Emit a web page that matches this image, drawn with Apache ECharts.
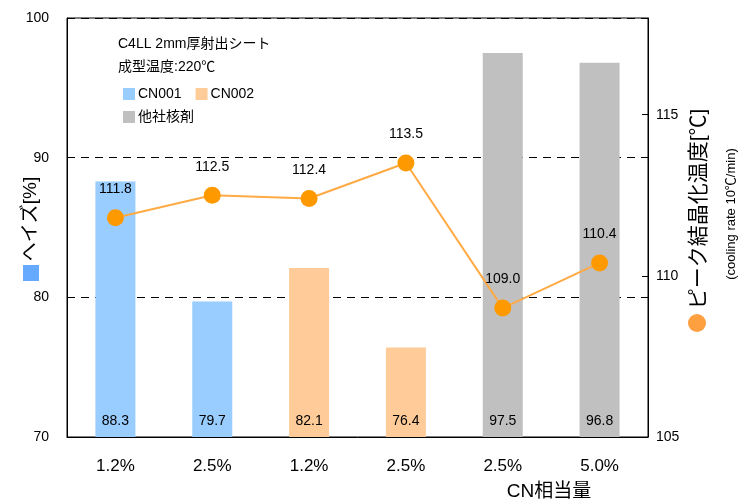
<!DOCTYPE html>
<html>
<head>
<meta charset="utf-8">
<script src="https://cdn.jsdelivr.net/npm/echarts@6/dist/echarts.min.js"></script>
<style>
  html, body { margin: 0; padding: 0; background: #fff; }
  #chart { width: 738px; height: 502px; }
</style>
</head>
<body>
<div id="chart"></div>
<script>
// カテゴリ（CN相当量）
const categories = ['1.2%', '2.5%', '1.2%', '2.5%', '2.5%', '5.0%'];
// ヘイズ[%]
const cn001 = [88.3, 79.7, null, null, null, null];
const cn002 = [null, null, 82.1, 76.4, null, null];
const otherAgent = [null, null, null, null, 97.5, 96.8];
// ピーク結晶化温度[℃]
const peakTemp = [111.8, 112.5, 112.4, 113.5, 109.0, 110.4];

const FONT = 'Arial, "Liberation Sans", "Noto Sans CJK JP", sans-serif';

const barLabel = {
  show: true,
  position: 'insideBottom',
  distance: 9,
  color: '#000',
  fontSize: 14,
  fontFamily: FONT,
};

const chart = echarts.init(document.getElementById('chart'), null, { renderer: 'canvas' });

const option = {
  animation: false,
  backgroundColor: '#fff',
  textStyle: { fontFamily: FONT },
  grid: {
    left: 67,
    right: 90,
    top: 18,
    bottom: 65,
    show: true,
    borderColor: '#000',
    borderWidth: 1,
  },
  legend: [
    {
      data: ['CN001', 'CN002'],
      left: 118,
      top: 82,
      itemWidth: 12,
      itemHeight: 12,
      itemGap: 14,
      icon: 'rect',
      textStyle: { fontSize: 14, color: '#000', fontFamily: FONT, padding: [0, 0, 0, -2] },
    },
    {
      data: [{ name: '他社核剤' }],
      left: 118,
      top: 105,
      itemWidth: 12,
      itemHeight: 12,
      icon: 'rect',
      textStyle: { fontSize: 14, color: '#000', fontFamily: FONT, padding: [0, 0, 0, -2] },
    },
  ],
  xAxis: {
    type: 'category',
    data: categories,
    axisLine: { lineStyle: { color: '#000', width: 1 } },
    axisTick: {
      inside: true,
      length: 6,
      interval: (i) => i === 2 || i === 4,
      lineStyle: { color: '#000' },
    },
    axisLabel: { color: '#000', fontSize: 17, margin: 21, fontFamily: FONT },
  },
  yAxis: [
    {
      type: 'value',
      min: 70,
      max: 100,
      interval: 10,
      axisLine: { show: true, lineStyle: { color: '#000' } },
      axisTick: { show: false },
      axisLabel: { color: '#000', fontSize: 14, margin: 18, fontFamily: FONT },
      splitLine: {
        show: true,
        lineStyle: { color: '#000', type: [8, 6], width: 1 },
      },
    },
    {
      type: 'value',
      min: 105,
      max: 118,
      interval: 5,
      axisLine: { show: true, lineStyle: { color: '#000' } },
      axisTick: { show: true, inside: true, length: 6, lineStyle: { color: '#000' } },
      axisLabel: { color: '#000', fontSize: 14, margin: 8, showMaxLabel: false, fontFamily: FONT },
      splitLine: { show: false },
    },
  ],
  graphic: [
    {
      type: 'text',
      left: 118,
      top: 37,
      style: { text: 'C4LL 2mm厚射出シート', fontSize: 14, fill: '#000', fontFamily: FONT },
    },
    {
      type: 'text',
      left: 118,
      top: 60,
      style: { text: '成型温度:220℃', fontSize: 14, fill: '#000', fontFamily: FONT },
    },
    {
      type: 'text',
      x: 549,
      y: 492,
      style: {
        text: 'CN相当量',
        fontSize: 19,
        fill: '#000',
        align: 'center',
        verticalAlign: 'middle',
        fontFamily: FONT,
      },
    },
    // 左軸タイトル
    {
      type: 'rect',
      shape: { x: 23, y: 265, width: 16, height: 16 },
      style: { fill: '#66aaff' },
    },
    {
      type: 'text',
      x: 31,
      y: 219,
      rotation: Math.PI / 2,
      style: {
        text: 'へイズ[%]',
        fontSize: 19,
        fill: '#000',
        align: 'center',
        verticalAlign: 'middle',
        fontFamily: FONT,
      },
    },
    // 右軸タイトル
    {
      type: 'circle',
      shape: { cx: 697, cy: 323, r: 9 },
      style: { fill: '#ffa040' },
    },
    {
      type: 'text',
      x: 699,
      y: 209,
      rotation: Math.PI / 2,
      style: {
        text: 'ピーク結晶化温度[℃]',
        fontSize: 21,
        fill: '#000',
        align: 'center',
        verticalAlign: 'middle',
        fontFamily: FONT,
      },
    },
    {
      type: 'text',
      x: 731,
      y: 214,
      rotation: Math.PI / 2,
      style: {
        text: '(cooling rate 10℃/min)',
        fontSize: 13,
        fill: '#000',
        align: 'center',
        verticalAlign: 'middle',
        fontFamily: FONT,
      },
    },
  ],
  series: [
    {
      name: 'CN001',
      type: 'bar',
      data: cn001,
      barWidth: 40,
      barGap: '-100%',
      itemStyle: { color: '#99ccff' },
      label: barLabel,
      z: 2,
    },
    {
      name: 'CN002',
      type: 'bar',
      data: cn002,
      barWidth: 40,
      barGap: '-100%',
      itemStyle: { color: '#ffcc99' },
      label: barLabel,
      z: 2,
    },
    {
      name: '他社核剤',
      type: 'bar',
      data: otherAgent,
      barWidth: 40,
      barGap: '-100%',
      itemStyle: { color: '#c0c0c0' },
      label: barLabel,
      z: 2,
    },
    {
      name: 'ピーク結晶化温度',
      type: 'line',
      yAxisIndex: 1,
      data: peakTemp,
      symbol: 'circle',
      symbolSize: 17,
      itemStyle: { color: '#ff9900' },
      lineStyle: { color: '#ffaa44', width: 2 },
      label: {
        show: true,
        position: 'top',
        distance: 13,
        color: '#000',
        fontSize: 14,
        fontFamily: FONT,
        formatter: (p) => p.value.toFixed(1),
      },
      z: 5,
    },
  ],
};

chart.setOption(option);
</script>
</body>
</html>
